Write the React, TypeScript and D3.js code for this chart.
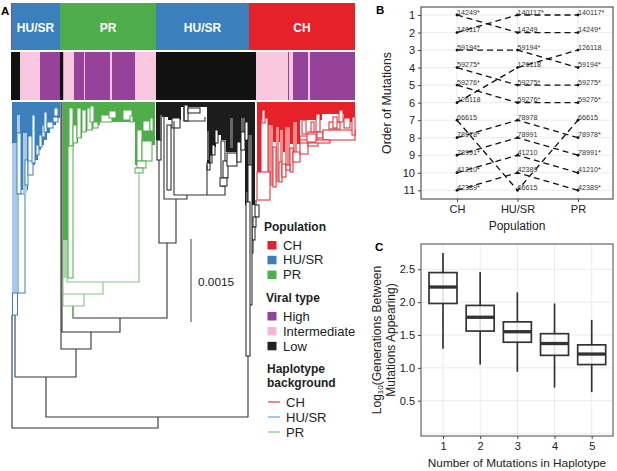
import React, { useEffect, useRef } from 'react';
import * as d3 from 'd3';

const FONT = '"Liberation Sans", Arial, sans-serif';
const RED = '#E6212A';
const BLUE = '#3B80BC';
const GREEN = '#4FAE4B';
const PURPLE = '#96429A';
const PINK = '#F8C6DF';
const BLACK = '#111111';

// panel A, tracks over the tree (widths in tips)
const popNames = ['HU/SR', 'PR', 'HU/SR', 'CH'];
const popWidths = [49, 96, 93, 106];
const viralTypes = ['L', 'I', 'H', 'L', 'I', 'H', 'I', 'H', 'I', 'H', 'I', 'L', 'I', 'H', 'I', 'H', 'I', 'H'];
const viralWidths = [9, 20, 20, 3.5, 10.5, 10, 1, 25, 2, 23, 21, 100, 32, 1.2, 3.8, 15, 2, 45];
const viralColor: Record<string, string> = { H: PURPLE, I: PINK, L: BLACK };

// tree: tip position, depth below the tips (55.3 depth units = 0.001 substitutions)
// solid strips [from, to, depth]
const blueStrips = [[1,17,88],[17,24,63],[24,27,58],[27,30,48],[30,33,43],[33,36,38],[36,39,31],[39,42,26],[42,45,23],[45,49,16]];
const greenStrips = [[52,57,138],[57,63,44],[63,67,41],[67,71,36],[71,76,30],[76,82,28],[82,89,23],[89,99,20],[99,109,20],[109,124,20],[124,131,63],[131,144,43]];
const blackStrips = [[145,151,38],[151,157,15],[157,170,18],[170,196,5],[196,199,63],[199,202,53],[202,205,45],[205,210,33],[210,215,38],[215,226,50],[226,234,40],[234,244,103]];
const redStrips = [[246,250,70],[250,257,16],[257,262,23],[262,269,40],[269,274,50],[274,279,45],[279,289,42],[289,311,18],[311,333,12],[333,344,20]];
// tinted strips [from, to, top, bottom]
const blueTints = [[1,6,41,191],[12,16,31,91],[6,9,13,31]];
const greenTints = [[52,57,138,176]];
const blackTints = [[196,198,29,58],[219,222,16,46],[230,234,16,33],[237,241,33,63],[149,151,13,38],[235,237,90,103]];
const redTints = [[257,262,23,84],[265,268,25,80],[274,279,25,63],[282,286,20,53],[269,272,28,60]];
// white clade boxes [from, to, top, bottom]
const blueBoxes = [[6,10,31,92],[7,14,92,191],[1.5,6.5,191,213],[14,17,58,83],[17,22,58,73],[17,22,34,59],[21,24,13,61],[25,28,43,53],[28,31,33,45],[31,34,23,35],[33,36,10,30],[36,42,20,26],[42,47,15,20],[43,47,6,14]];
const greenBoxes = [[58,62,6,44],[62,66,23,41],[66,70,6,36],[71,75,8,30],[76,81,6,28],[79,83,4,20],[82,87,20,26],[90,101,13,20],[98,105,9,16],[112,121,8,18],[119,122,14,20],[126,131,28,59],[131,141,39,59],[126,135,59,66],[124,132,66,71],[132,139,19,29],[139,142,16,29],[57,62,44,176]];
const blackBoxes = [[146,150,38,58],[156,160,23,88],[173,177,3,19],[177,189,6,11],[161,169,16,26],[196,199,61,68],[199,201,53,61],[201,204,43,53],[204,207,28,41],[210,214,39,84],[212,217,59,76],[209,216,76,84],[216,226,51,64],[226,230,40,60],[230,234,30,48],[234,237,20,38],[244,248,103,115],[242,245,115,125],[241,244,125,138],[239,242,138,151],[237,241,63,203],[235,239,100,254]];
const redBoxes = [[250,257,16,93],[251,254,8,21],[262,265,45,85],[268,271,60,80],[271,275,62,75],[279,282,46,70],[275,279,63,68],[282,289,50,60],[289,297,34,52],[297,307,30,44],[291,295,18,32],[300,303,20,30],[305,309,12,30],[306,312,30,36],[312,344,28,38],[289,319,38,41],[318,329,20,27],[322,326,15,26],[328,332,8,20],[333,339,16,26],[341,344,15,33],[296,305,32,40],[246,259,70,98]];
// backbone brackets [left tip, right tip, depth, left top, right top]
const blackBrackets = [[1,147,326,213,315],[35,237,315,275,254],[4,65,275,213,247],[50,80,247,0,230],[51,109,230,0,216],[62,156,216,204,141],[148,165,141,58,97],[153,176,97,13,93],[163,214,93,19,84],[173,194,19,3,15],[196,196,93,63,63],[245,245,103,98,98]];
const greenBrackets = [[56,128,180,176,71],[52,92,192,176,180],[52,73,204,192,192]];

// panel B
const populations = ['CH', 'HU/SR', 'PR'];
const orderCH = ['14249*','140117','59194*','59275*','59276*','126118','66615','78978*','78991*','41210*','42389*'];
const orderHU = ['140117*','14249','59194*','126118','59275*','59276*','78978','78991','41210','42389','66615'];
const orderPR = ['140117*','14249*','126118','59194*','59275*','59276*','66615','78978*','78991*','41210*','42389*'];
const orders = [orderCH, orderHU, orderPR];
const orderTicks = d3.range(1, 12);

// panel C
const haplotypeSizes = [1, 2, 3, 4, 5];
const whiskerLow = [1.29, 1.05, 0.94, 0.7, 0.63];
const q1 = [1.98, 1.56, 1.39, 1.19, 1.05];
const medians = [2.23, 1.77, 1.55, 1.37, 1.21];
const q3 = [2.45, 1.95, 1.7, 1.52, 1.35];
const whiskerHigh = [2.75, 2.46, 2.15, 1.98, 1.73];
const genTicks = [0.5, 1, 1.5, 2, 2.5];

const App: React.FC = () => {
  const ref = useRef<SVGSVGElement>(null);

  useEffect(() => {
    if (!ref.current) return;
    const svg = d3.select(ref.current);
    svg.selectAll('*').remove();
    svg.style('font-family', FONT);

    const label = (x: number, y: number, s: string, size: number, opts: any = {}) =>
      svg.append('text').attr('x', x).attr('y', y).text(s)
        .attr('font-size', size)
        .attr('font-weight', opts.bold ? 'bold' : 'normal')
        .attr('text-anchor', opts.anchor || 'start')
        .attr('fill', opts.fill || '#222');

    // ---- panel A ----
    const tipX = d3.scaleLinear().domain([0, 345]).range([11, 356]);
    const depthY = d3.scaleLinear().domain([0, 326]).range([102, 428]);
    const perUnit = 55333; // depth units per substitution

    const popEdges = [0, ...d3.cumsum(popWidths)];
    const popColor = [BLUE, GREEN, BLUE, RED];
    popNames.forEach((name, i) => {
      svg.append('rect').attr('x', tipX(popEdges[i])).attr('y', 3)
        .attr('width', tipX(popEdges[i + 1]) - tipX(popEdges[i])).attr('height', 47)
        .attr('fill', popColor[i]);
      label(tipX((popEdges[i] + popEdges[i + 1]) / 2), 32, name, 12, { bold: true, anchor: 'middle', fill: '#fff' });
    });
    svg.append('rect').attr('x', 11).attr('y', 3).attr('width', 1).attr('height', 47).attr('fill', PURPLE);

    const viralEdges = [0, ...d3.cumsum(viralWidths)];
    viralTypes.forEach((t, i) => {
      svg.append('rect').attr('x', tipX(viralEdges[i])).attr('y', 52)
        .attr('width', tipX(viralEdges[i + 1]) - tipX(viralEdges[i])).attr('height', 48)
        .attr('fill', viralColor[t]);
    });

    const tree = svg.append('g');
    const strip = (a: number, b: number, top: number, bottom: number, fill: string) =>
      tree.append('rect').attr('x', tipX(a)).attr('y', depthY(top))
        .attr('width', tipX(b) - tipX(a)).attr('height', depthY(bottom) - depthY(top)).attr('fill', fill);
    const clades = [
      { strips: blueStrips, tints: blueTints, boxes: blueBoxes, color: BLUE, tint: '#A9CBE8' },
      { strips: greenStrips, tints: greenTints, boxes: greenBoxes, color: GREEN, tint: '#A5D8A2' },
      { strips: blackStrips, tints: blackTints, boxes: blackBoxes, color: '#1c1c1c', tint: '#666666' },
      { strips: redStrips, tints: redTints, boxes: redBoxes, color: RED, tint: '#F28B8B' },
    ];
    clades.forEach(c => {
      c.strips.forEach(([a, b, d]) => strip(a, b, 0, d, c.color));
      c.tints.forEach(([a, b, t, d]) => strip(a, b, t, d, c.tint));
      c.boxes.forEach(([a, b, t, d]) => {
        strip(a, b, t, d, '#fff').attr('stroke', c.color).attr('stroke-width', 1);
      });
    });

    const bracket = (a: number, b: number, d: number, ta: number, tb: number) =>
      `M${tipX(a)},${depthY(ta)}V${depthY(d)}H${tipX(b)}V${depthY(tb)}`;
    blackBrackets.forEach(([a, b, d, ta, tb]) => {
      tree.append('path').attr('d', bracket(a, b, d, ta, tb)).attr('fill', 'none').attr('stroke', '#333').attr('stroke-width', 1.1);
    });
    greenBrackets.forEach(([a, b, d, ta, tb]) => {
      tree.append('path').attr('d', bracket(a, b, d, ta, tb)).attr('fill', 'none').attr('stroke', '#82C67F').attr('stroke-width', 1.1);
    });
    // blue stem of the first clade and green stem into the backbone
    tree.append('path').attr('d', `M${tipX(4)},${depthY(213)}V${depthY(275)}`).attr('stroke', '#6FA5D3').attr('stroke-width', 1.1);
    tree.append('path').attr('d', `M${tipX(62)},${depthY(204)}V${depthY(216)}`).attr('stroke', '#82C67F').attr('stroke-width', 1.1);

    // scale bar
    const barLen = 0.0015 * perUnit;
    svg.append('line').attr('x1', 191).attr('x2', 191).attr('y1', depthY(137)).attr('y2', depthY(137 + barLen))
      .attr('stroke', '#555').attr('stroke-width', 1.1);
    label(198, 286, '0.0015', 11.8);

    // legend
    const legendSwatch = (y: number, c: string) =>
      svg.append('rect').attr('x', 267.5).attr('y', y).attr('width', 9).attr('height', 8.5).attr('fill', c);
    label(264, 231, 'Population', 12, { bold: true });
    ['CH', 'HU/SR', 'PR'].forEach((s, i) => {
      legendSwatch(241 + i * 14.8, [RED, BLUE, GREEN][i]);
      label(283, 249.5 + i * 14.8, s, 13);
    });
    label(266, 302, 'Viral type', 12, { bold: true });
    ['High', 'Intermediate', 'Low'].forEach((s, i) => {
      legendSwatch(312 + i * 14.9, [PURPLE, '#F6B6D5', '#222'][i]);
      label(283, 321 + i * 14.9, s, 13);
    });
    label(267, 373, 'Haplotype', 12, { bold: true });
    label(267, 387, 'background', 12, { bold: true });
    ['CH', 'HU/SR', 'PR'].forEach((s, i) => {
      svg.append('line').attr('x1', 268).attr('x2', 280).attr('y1', 402 + i * 15).attr('y2', 402 + i * 15)
        .attr('stroke', [RED, '#5C9BD0', '#6DBE69'][i]).attr('stroke-width', 1.1);
      label(286, 406.5 + i * 15, s, 13);
    });

    label(1, 15, 'A', 11.5, { bold: true, fill: '#000' });
    label(376, 14, 'B', 11.5, { bold: true, fill: '#000' });
    label(375, 251, 'C', 11.5, { bold: true, fill: '#000' });

    // ---- panel B ----
    const bx = d3.scalePoint<string>().domain(populations).range([457, 578]);
    const by = d3.scaleLinear().domain([1, 11]).range([15, 190.3]);
    const bg = svg.append('g');
    orderTicks.forEach(t => {
      bg.append('line').attr('x1', 421).attr('x2', 613).attr('y1', by(t)).attr('y2', by(t)).attr('stroke', '#e6e6e6').attr('stroke-width', 0.8);
    });
    populations.forEach(p => {
      bg.append('line').attr('x1', bx(p)!).attr('x2', bx(p)!).attr('y1', 7).attr('y2', 199).attr('stroke', '#e6e6e6').attr('stroke-width', 0.8);
    });
    const ids = orderCH.map(s => s.replace('*', ''));
    const rankLine = d3.line<[number, number]>().x(d => d[0]).y(d => d[1]);
    ids.forEach(id => {
      const pts = orders.map((o, i) => {
        const rank = o.findIndex(s => s.replace('*', '') === id) + 1;
        return [bx(populations[i])!, by(rank)] as [number, number];
      });
      bg.append('path').attr('d', rankLine(pts)).attr('fill', 'none').attr('stroke', '#111')
        .attr('stroke-width', 1.3).attr('stroke-dasharray', '6 4');
    });
    orders.forEach((o, i) => {
      o.forEach((s, r) => {
        const x = bx(populations[i])!;
        bg.append('circle').attr('cx', x).attr('cy', by(r + 1)).attr('r', 1.4).attr('fill', '#111');
        bg.append('text').attr('x', x).attr('y', by(r + 1) - 0.5).text(s).attr('font-size', 7.2).attr('fill', '#333');
      });
    });
    svg.append('rect').attr('x', 421).attr('y', 7).attr('width', 192).attr('height', 192)
      .attr('fill', 'none').attr('stroke', '#555').attr('stroke-width', 1.2);
    const byAxis = svg.append('g').attr('transform', 'translate(421,0)')
      .call(d3.axisLeft(by).tickValues(orderTicks).tickFormat(d3.format('d')).tickSize(3));
    const bxAxis = svg.append('g').attr('transform', 'translate(0,199)')
      .call(d3.axisBottom(bx).tickSize(3));
    label(517, 230, 'Population', 12, { anchor: 'middle' });
    svg.append('text').attr('transform', 'translate(391,103) rotate(-90)').attr('text-anchor', 'middle')
      .attr('font-size', 12.3).attr('fill', '#222').text('Order of Mutations');

    // ---- panel C ----
    const cx = d3.scaleLinear().domain([1, 5]).range([443, 591.7]);
    const cy = d3.scaleLinear().domain([0.5, 2.5]).range([400.7, 269.3]);
    const cg = svg.append('g');
    [0, ...genTicks].forEach(t => {
      cg.append('line').attr('x1', 421).attr('x2', 613).attr('y1', cy(t)).attr('y2', cy(t)).attr('stroke', '#e6e6e6').attr('stroke-width', 0.8);
    });
    haplotypeSizes.forEach(h => {
      cg.append('line').attr('x1', cx(h)).attr('x2', cx(h)).attr('y1', 244).attr('y2', 436).attr('stroke', '#e6e6e6').attr('stroke-width', 0.8);
    });
    const boxW = 28;
    haplotypeSizes.forEach((h, i) => {
      cg.append('line').attr('x1', cx(h)).attr('x2', cx(h)).attr('y1', cy(whiskerHigh[i])).attr('y2', cy(whiskerLow[i]))
        .attr('stroke', '#333').attr('stroke-width', 1.7);
      cg.append('rect').attr('x', cx(h) - boxW / 2).attr('y', cy(q3[i])).attr('width', boxW).attr('height', cy(q1[i]) - cy(q3[i]))
        .attr('fill', '#fff').attr('fill-opacity', 0.85).attr('stroke', '#333').attr('stroke-width', 1.7);
      cg.append('line').attr('x1', cx(h) - boxW / 2).attr('x2', cx(h) + boxW / 2).attr('y1', cy(medians[i])).attr('y2', cy(medians[i]))
        .attr('stroke', '#333').attr('stroke-width', 3.3);
    });
    svg.append('rect').attr('x', 421).attr('y', 244).attr('width', 192).attr('height', 192)
      .attr('fill', 'none').attr('stroke', '#666').attr('stroke-width', 1.2);
    const cyAxis = svg.append('g').attr('transform', 'translate(421,0)')
      .call(d3.axisLeft(cy).tickValues(genTicks).tickFormat(d3.format('.1f')).tickSize(3));
    const cxAxis = svg.append('g').attr('transform', 'translate(0,436)')
      .call(d3.axisBottom(cx).tickValues(haplotypeSizes).tickFormat(d3.format('d')).tickSize(3));
    label(517, 467, 'Number of Mutations in Haplotype', 11.8, { anchor: 'middle' });
    const yTitle = svg.append('text').attr('transform', 'translate(381,340) rotate(-90)').attr('text-anchor', 'middle')
      .attr('font-size', 12).attr('fill', '#222');
    yTitle.append('tspan').text('Log');
    yTitle.append('tspan').text('10').attr('font-size', 8).attr('dy', 2);
    yTitle.append('tspan').text('(Generations Between').attr('dy', -2);
    svg.append('text').attr('transform', 'translate(395,340) rotate(-90)').attr('text-anchor', 'middle')
      .attr('font-size', 12).attr('fill', '#222').text('Mutations Appearing)');

    [byAxis, bxAxis, cyAxis, cxAxis].forEach(a => {
      a.select('.domain').remove();
      a.selectAll('text').attr('font-size', 11).attr('font-family', FONT).attr('fill', '#222');
      a.selectAll('line').attr('stroke', '#444');
    });
  }, []);

  return <svg ref={ref} width={617} height={471} viewBox="0 0 617 471" style={{ position: 'absolute', left: 0, top: 0 }} />;
};

export default App;
